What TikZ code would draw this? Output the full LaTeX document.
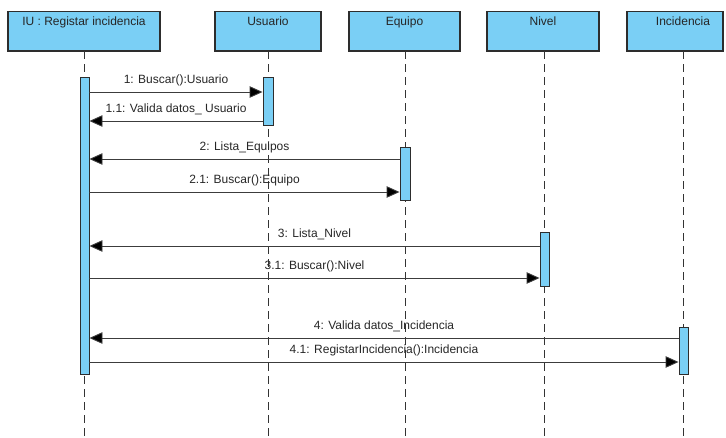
\documentclass[tikz,border=0pt]{standalone}
\usepackage{fontspec}
\setmainfont{Liberation Sans}
\usetikzlibrary{arrows.meta}
\definecolor{objfill}{RGB}{122,207,245}
\definecolor{objline}{RGB}{45,45,45}
\definecolor{msgline}{RGB}{60,60,60}
\begin{document}
\begin{tikzpicture}[x=1pt,y=-1pt,
  objbox/.style={draw=objline,line width=1.1pt,fill=objfill,inner sep=0pt},
  objtext/.style={anchor=base,inner sep=0pt,font=\fontsize{12}{14}\selectfont,text=black!85},
  actbar/.style={draw=objline,line width=0.9pt,fill=objfill,inner sep=0pt,minimum width=9pt},
  life/.style={draw=black!80,line width=0.9pt,dash pattern=on 8pt off 5pt},
  msg/.style={draw=msgline,line width=0.9pt,-{Triangle[length=13pt,width=11.5pt,fill=black]}},
  msglab/.style={midway,anchor=base,yshift=9pt,inner sep=0pt,font=\fontsize{12}{14}\selectfont,text=black!85}]
\useasboundingbox (0,0) rectangle (726,437);
% object boxes
\node[objbox,minimum width=152pt,minimum height=39.3pt] (iu) at (84,31.35) {};
\node[objbox,minimum width=106pt,minimum height=39.3pt] (us) at (268,31.35) {};
\node[objbox,minimum width=111pt,minimum height=39.3pt] (eq) at (404.5,31.35) {};
\node[objbox,minimum width=112pt,minimum height=39.3pt] (ni) at (543,31.35) {};
\node[objbox,minimum width=96pt,minimum height=39.3pt] (in) at (675,31.35) {};
\node[objtext] (iuT) at (84,25) {IU : Registar incidencia};
\node[objtext] (usT) at (268,25) {Usuario};
\node[objtext] (eqT) at (404.5,25) {Equipo};
\node[objtext] (niT) at (543,25) {Nivel};
\node[objtext] (inT) at (683,25) {Incidencia};
% lifeline ends
\coordinate (iuE) at (84.5,437);
\coordinate (usE) at (268,437);
\coordinate (eqE) at (405,437);
\coordinate (niE) at (544.5,437);
\coordinate (inE) at (683.5,437);
\coordinate (iuS) at (84.5,51);
\coordinate (usS) at (268,51);
\coordinate (eqS) at (405,51);
\coordinate (niS) at (544.5,51);
\coordinate (inS) at (683.5,51);
\draw[life] (iuS) -- (iuE);
\draw[life] (usS) -- (usE);
\draw[life] (eqS) -- (eqE);
\draw[life] (niS) -- (niE);
\draw[life] (inS) -- (inE);
% activation bars
\node[actbar,minimum height=297pt] (iuB) at (84.5,225.5) {};
\node[actbar,minimum width=10pt,minimum height=48pt] (usB) at (268,101) {};
\node[actbar,minimum width=10pt,minimum height=53pt] (eqB) at (405,173.5) {};
\node[actbar,minimum height=54pt] (niB) at (544.5,259) {};
\node[actbar,minimum height=47pt] (inB) at (683.5,350.5) {};
% message rows
\coordinate (y1) at (0,92);
\coordinate (y11) at (0,121);
\coordinate (y2) at (0,159);
\coordinate (y21) at (0,192);
\coordinate (y3) at (0,246);
\coordinate (y31) at (0,278);
\coordinate (y4) at (0,338);
\coordinate (y41) at (0,362);
\draw[msg] (iuB.east |- y1) -- node[msglab]{1: Buscar():Usuario} (usB.west |- y1);
\draw[msg] (usB.west |- y11) -- node[msglab]{1.1: Valida datos\_ Usuario} (iuB.east |- y11);
\draw[msg] (eqB.west |- y2) -- node[msglab]{2: Lista\_Equipos} (iuB.east |- y2);
\draw[msg] (iuB.east |- y21) -- node[msglab]{2.1: Buscar():Equipo} (eqB.west |- y21);
\draw[msg] (niB.west |- y3) -- node[msglab]{3: Lista\_Nivel} (iuB.east |- y3);
\draw[msg] (iuB.east |- y31) -- node[msglab]{3.1: Buscar():Nivel} (niB.west |- y31);
\draw[msg] (inB.west |- y4) -- node[msglab]{4: Valida datos\_Incidencia} (iuB.east |- y4);
\draw[msg] (iuB.east |- y41) -- node[msglab]{4.1: RegistarIncidencia():Incidencia} (inB.west |- y41);
\end{tikzpicture}
\end{document}
